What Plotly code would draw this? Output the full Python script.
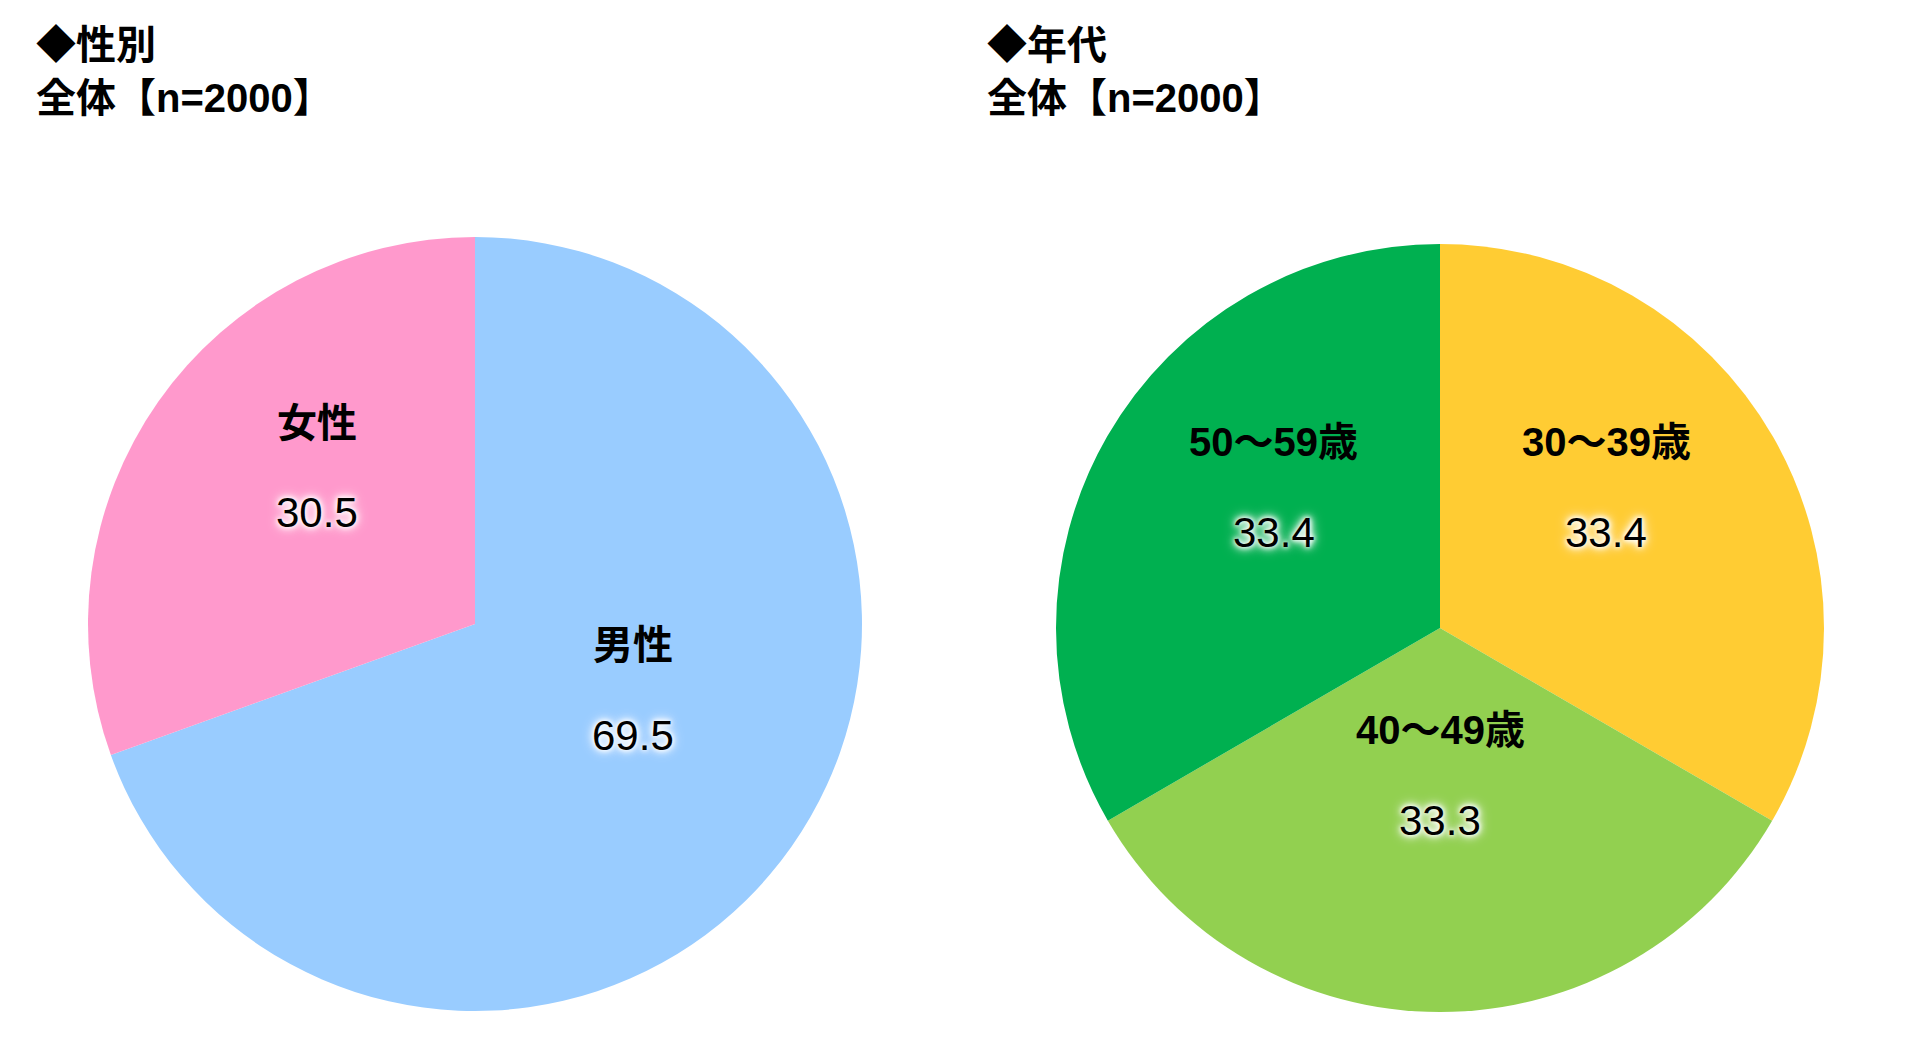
import math
import plotly.graph_objects as go

W, H = 1918, 1052
OFF = 8  # default page body margin
FW, FH = W - 2 * OFF, H - 2 * OFF

gender_labels = ["男性", "女性"]
gender_values = [69.5, 30.5]
gender_colors = ["#99CCFF", "#FF99CC"]

age_labels = ["30～39歳", "40～49歳", "50～59歳"]
age_values = [33.4, 33.3, 33.4]
age_colors = ["#FFCC33", "#92D050", "#00B050"]

titles_left = ["◆性別", "全体【n=2000】"]
titles_right = ["◆年代", "全体【n=2000】"]

FONT = "Liberation Sans, Noto Sans CJK JP, sans-serif"
GLOW = "0 0 4px white, 0 0 6px white, 0 0 10px white, 0 0 14px white"


def px_to_x(px):
    return (px - OFF) / FW


def px_to_y(py):
    return 1 - (py - OFF) / FH


fig = go.Figure()
annotations = []


def add_pie(labels, values, colors, cx, cy, r, frac=0.5, gap=90):
    dom = dict(x=[px_to_x(cx - r), px_to_x(cx + r)], y=[px_to_y(cy + r), px_to_y(cy - r)])
    fig.add_trace(go.Pie(labels=labels, values=values, sort=False, direction="clockwise",
                         rotation=0, domain=dom, textinfo="none", showlegend=False,
                         hoverinfo="skip",
                         marker=dict(colors=colors, line=dict(width=0))))
    total = sum(values)
    cum = 0.0
    for lab, v in zip(labels, values):
        mid = (cum + v / 2) / total
        cum += v
        th = 2 * math.pi * mid
        tx = cx + frac * r * math.sin(th)
        ty = cy - frac * r * math.cos(th)
        annotations.append(dict(text=f"<b>{lab}</b>", x=px_to_x(tx), y=px_to_y(ty - gap),
                                xref="paper", yref="paper", xanchor="center", yanchor="middle",
                                showarrow=False,
                                font=dict(family=FONT, size=40, color="black")))
        annotations.append(dict(text=f"{v:.1f}", x=px_to_x(tx), y=px_to_y(ty),
                                xref="paper", yref="paper", xanchor="center", yanchor="middle",
                                showarrow=False,
                                font=dict(family=FONT, size=42, color="black", shadow=GLOW)))


add_pie(gender_labels, gender_values, gender_colors, 475, 624, 387)
add_pie(age_labels, age_values, age_colors, 1440, 628, 384)

for lines, x0 in ((titles_left, 34), (titles_right, 985)):
    for txt, yc in zip(lines, (45, 98)):
        annotations.append(dict(text=f"<b>{txt}</b>", x=px_to_x(x0), y=px_to_y(yc),
                                xref="paper", yref="paper", xanchor="left", yanchor="middle",
                                showarrow=False, font=dict(family=FONT, size=40, color="black")))

fig.update_layout(width=FW, height=FH, margin=dict(l=0, r=0, t=0, b=0),
                  paper_bgcolor="white", plot_bgcolor="white", annotations=annotations)

fig.write_html("out.html")
